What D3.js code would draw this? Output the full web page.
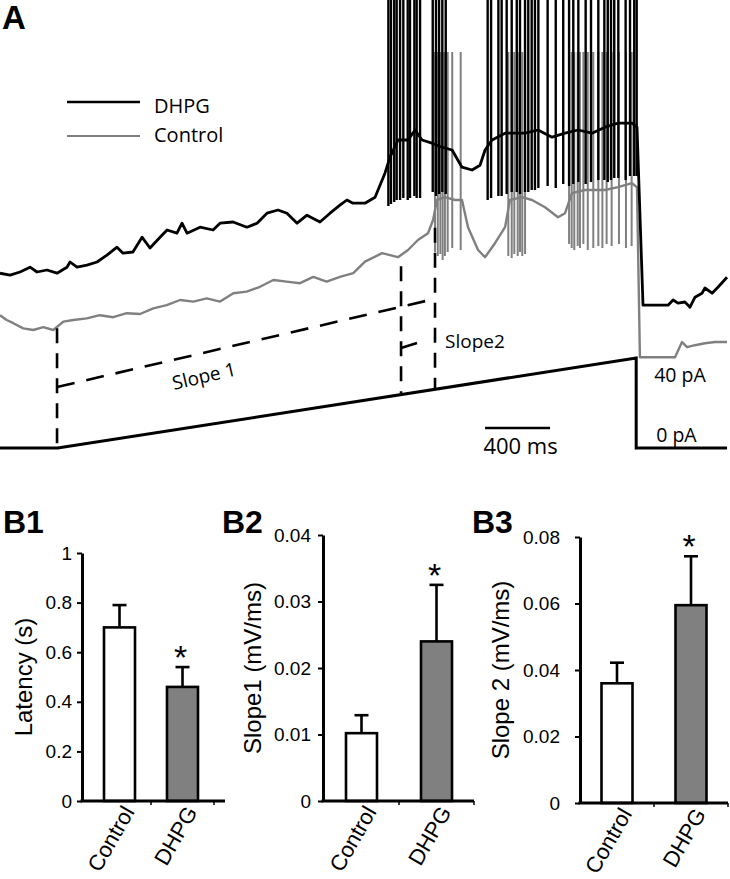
<!DOCTYPE html>
<html><head><meta charset="utf-8">
<script src="https://cdn.jsdelivr.net/npm/d3@7"></script>
<style>body{margin:0;background:#fff}svg{display:block}</style>
</head><body>
<svg id="fig" width="730" height="879"></svg>
<script>
// ================= Panel A data =================
// injected current ramp (time in ms, current in pA)
const rampTimes   = [0, 355, 3915, 3915, 4474];
const rampCurrent = [0, 0, 40, 0, 0];
// DHPG membrane potential (sub-threshold trajectory, ms / mV)
const dhpgBaseT = [0,62,123,185,228,289,351,412,431,474,535,597,658,720,757,818,874,923,985,1028,1089,1120,1151,1231,1311,1354,1434,1520,1582,1643,1711,1766,1828,1889,1969,2031,2092,2135,2172,2246,2308,2369,2400,2449,2511,2554,2597,2658,2720,2782,2843,2905,2954,2985,3028,3108,3231,3311,3397,3477,3557,3643,3723,3803,3889,3920,3957,4111,4142,4172,4215,4246,4277,4320,4338,4382,4418,4474];
const dhpgBaseV = [-68.3,-68.8,-68,-66.8,-68,-67.5,-68.3,-66.8,-65.5,-66.8,-66.3,-65.5,-63.8,-61.8,-63.3,-63,-59.3,-62,-59.3,-57.5,-58.3,-55.8,-58.3,-56.8,-57.5,-55.8,-55.5,-56.8,-55.8,-53.3,-52.5,-53.3,-55.8,-53.8,-55.5,-53.3,-51.3,-50,-50.8,-50.8,-49.3,-43.3,-39.3,-35,-35,-32.5,-35,-35.8,-36.8,-37.5,-41.8,-42.5,-41.3,-37.5,-35,-33.3,-33.3,-32.5,-34.3,-33.3,-32.5,-33.3,-31.8,-30.8,-30.8,-31.8,-76.3,-76.3,-75,-75.8,-75.5,-76.8,-74.3,-73.3,-72,-73.3,-71.8,-69.3];
// Control membrane potential
const ctrlBaseT = [0,41,82,143,205,266,328,390,451,534,615,697,780,862,943,1026,1108,1190,1272,1354,1436,1518,1600,1682,1764,1846,1928,2010,2092,2174,2246,2351,2449,2511,2572,2634,2665,2689,2738,2800,2843,2880,2942,2985,3046,3108,3138,3212,3274,3354,3434,3477,3520,3600,3723,3803,3889,3920,3938,4154,4197,4228,4277,4338,4400,4474];
const ctrlBaseV = [-78.8,-80,-80.8,-82.1,-82.5,-81.8,-82.5,-80.4,-80,-79.6,-78.8,-79.3,-78.3,-78.5,-77.1,-76.3,-75,-75.4,-74.6,-75.4,-73.3,-72.9,-71.7,-70,-70.4,-70.8,-69.2,-70.4,-69.2,-68.3,-65.4,-63.3,-64.3,-62.5,-60,-58.3,-55,-50,-49.3,-50,-50,-56.8,-62.5,-64.3,-60.8,-56.8,-50,-49.3,-50,-51.8,-54.3,-53.3,-48.3,-47.5,-47.5,-46.8,-45.8,-46.8,-89.3,-89.3,-85.5,-86.8,-86.3,-85.8,-85.5,-85.5];
// action potentials: times (ms), AHP trough (mV), peak (mV)
const dhpgSpikeT = [2390,2406,2426,2441,2462,2482,2509,2523,2550,2564,2585,2663,2683,2702,2722,2743,3001,3022,3067,3087,3118,3149,3180,3200,3231,3251,3272,3292,3313,3370,3420,3466,3502,3528,3559,3604,3637,3682,3719,3740,3760,3780,3805,3850,3877,3903,3918];
const dhpgSpikeTrough = [-51.5,-51,-50.5,-50,-50,-49.5,-50,-49.5,-49,-49.5,-49.5,-48,-49,-48.5,-48,-48.5,-50,-49.5,-49,-49,-48.5,-48,-48,-48.5,-48,-48,-47.5,-47.5,-47,-46.5,-47,-46,-46.5,-46,-45.5,-46,-45.5,-45,-45,-45.5,-45,-44.5,-44.5,-45,-44,-44,-44];
const dhpgSpikePeak = 20;
const ctrlSpikeT = [2677,2694,2710,2724,2738,2755,2783,2835,3128,3149,3165,3186,3200,3214,3231,3502,3518,3534,3555,3569,3590,3617,3651,3682,3707,3733,3764,3809,3852,3887];
const ctrlSpikeTrough = [-63,-64,-63.5,-65,-64,-63,-62,-62.5,-64,-64.5,-63.5,-64,-63,-64,-63.5,-61,-62,-62.5,-61.5,-62,-61,-62.5,-62,-61.5,-62,-61,-61.5,-61,-62,-61.5];
const ctrlSpikePeak = -13;
// analysis markers
const markT = [351, 2468, 2677];          // ramp onset, slope break, first spike
const markV = [-81.8, -66.3, -56.7];
const slope1T = [351, 2646], slope1V = [-96.75, -75];
const slope2T = [2468, 2566], slope2V = [-87, -85.75];
const scaleBarT = [2985, 3385];            // 400 ms
const legendNames = ["DHPG", "Control"];

// ================= Panel B data =================
const groups = ["Control", "DHPG"];
const latencyMean = [0.70, 0.46], latencySem = [0.09, 0.08];
const slope1Mean = [0.0102, 0.024], slope1Sem = [0.0027, 0.0085];
const slope2Mean = [0.036, 0.0595], slope2Sem = [0.0062, 0.0147];
const latencyTicks = [0, 0.2, 0.4, 0.6, 0.8, 1];
const slope1Ticks = [0, 0.01, 0.02, 0.03, 0.04];
const slope2Ticks = [0, 0.02, 0.04, 0.06, 0.08];
const significant = [false, true];

// ================= drawing =================
const GRAY = "#808080";
const FA = "'Open Sans', sans-serif";
const FB = "'Liberation Sans', Arial, sans-serif";
const svg = d3.select("#fig");

const xT = d3.scaleLinear().domain([0, 4480]).range([0, 728]);
const yV = d3.scaleLinear().domain([0, -115]).range([0, 460]);
const yI = d3.scaleLinear().domain([0, 40]).range([448, 358]);
const rampAt = d3.scaleLinear().domain(rampTimes.slice(1, 3)).range(rampCurrent.slice(1, 3)).clamp(true);

const gA = svg.append("g");
const lineV = d3.line().x(d => xT(d[0])).y(d => yV(d[1]));
const lineI = d3.line().x(d => xT(d[0])).y(d => yI(d[1]));

function drawTrace(T, V, sT, sTr, peak, color, w, sw) {
  gA.append("path").datum(d3.zip(T, V)).attr("d", lineV)
    .attr("fill", "none").attr("stroke", color).attr("stroke-width", w)
    .attr("stroke-linejoin", "round");
  gA.append("g").selectAll("line").data(d3.zip(sT, sTr)).join("line")
    .attr("x1", d => xT(d[0])).attr("x2", d => xT(d[0]))
    .attr("y1", d => yV(d[1])).attr("y2", yV(peak))
    .attr("stroke", color).attr("stroke-width", sw);
}
drawTrace(ctrlBaseT, ctrlBaseV, ctrlSpikeT, ctrlSpikeTrough, ctrlSpikePeak, GRAY, 2.4, 2);
drawTrace(dhpgBaseT, dhpgBaseV, dhpgSpikeT, dhpgSpikeTrough, dhpgSpikePeak, "#000", 2.8, 2.4);

// current ramp
gA.append("path").datum(d3.zip(rampTimes, rampCurrent)).attr("d", lineI)
  .attr("fill", "none").attr("stroke", "#000").attr("stroke-width", 3);

// dashed markers
const dash = "15,10";
gA.append("g").selectAll("line").data(d3.zip(markT, markV)).join("line")
  .attr("x1", d => xT(d[0])).attr("x2", d => xT(d[0]))
  .attr("y1", d => yV(d[1]) + 1).attr("y2", d => yI(rampAt(d[0])))
  .attr("stroke", "#000").attr("stroke-width", 2.6).attr("stroke-dasharray", dash);
gA.append("line")
  .attr("x1", xT(slope1T[0])).attr("y1", yV(slope1V[0]))
  .attr("x2", xT(slope1T[1])).attr("y2", yV(slope1V[1]))
  .attr("stroke", "#000").attr("stroke-width", 2.6).attr("stroke-dasharray", "18,12");
gA.append("line")
  .attr("x1", xT(slope2T[0])).attr("y1", yV(slope2V[0]))
  .attr("x2", xT(slope2T[1])).attr("y2", yV(slope2V[1]))
  .attr("stroke", "#000").attr("stroke-width", 2.6);

// Slope 1 label (rotated along its line)
const s1x0 = xT(slope1T[0]), s1y0 = yV(slope1V[0]), s1x1 = xT(slope1T[1]), s1y1 = yV(slope1V[1]);
const ang = Math.atan2(s1y1 - s1y0, s1x1 - s1x0) * 180 / Math.PI;
const lx = 204, ly = s1y0 + (s1y1 - s1y0) * (lx - s1x0) / (s1x1 - s1x0) + 23;
gA.append("text").attr("transform", `translate(${lx},${ly}) rotate(${ang})`)
  .attr("text-anchor", "middle").attr("dominant-baseline", "central")
  .style("font-family", FA).style("font-size", "19px").text("Slope 1");
gA.append("text").attr("x", xT(slope2T[0]) + 44).attr("y", yV(slope2V[0]))
  .style("font-family", FA).style("font-size", "19px").text("Slope2");

// current labels
gA.append("text").attr("x", xT(rampTimes[2]) + 18).attr("y", yI(rampCurrent[2]) + 24)
  .style("font-family", FA).style("font-size", "19.5px").text("40 pA");
gA.append("text").attr("x", xT(rampTimes[2]) + 20).attr("y", yI(0) - 6)
  .style("font-family", FA).style("font-size", "19.5px").text("0 pA");

// scale bar
gA.append("line").attr("x1", xT(scaleBarT[0])).attr("x2", xT(scaleBarT[1]))
  .attr("y1", 428).attr("y2", 428).attr("stroke", "#000").attr("stroke-width", 2.6);
gA.append("text").attr("x", (xT(scaleBarT[0]) + xT(scaleBarT[1])) / 2 + 3).attr("y", 454)
  .attr("text-anchor", "middle").style("font-family", FA).style("font-size", "22px").text("400 ms");

// legend
const leg = gA.append("g").selectAll("g").data(legendNames).join("g")
  .attr("transform", (d, i) => `translate(0,${i === 0 ? 102 : 136})`);
leg.append("line").attr("x1", 67).attr("x2", 140)
  .attr("stroke", (d, i) => i === 0 ? "#000" : GRAY).attr("stroke-width", (d, i) => i === 0 ? 2.6 : 2.2);
leg.append("text").attr("x", 154).attr("y", (d, i) => i === 0 ? 11 : 6)
  .style("font-family", FA).style("font-size", "20px").text(d => d);

// panel labels
svg.append("text").attr("x", 2).attr("y", 29).style("font-family", FB).style("font-weight", "bold")
  .style("font-size", "33px").text("A");

// ================= bar charts =================
function barPanel(o) {
  const g = svg.append("g");
  const y = d3.scaleLinear().domain([0, o.ticks[o.ticks.length - 1]]).range([o.y0, o.yTop]);
  const x = d3.scaleBand().domain(groups).range(o.band);
  const bw = 31;
  // bars
  g.selectAll("rect").data(groups).join("rect")
    .attr("x", d => x(d) + x.bandwidth() / 2 - bw / 2).attr("width", bw)
    .attr("y", (d, i) => y(o.mean[i])).attr("height", (d, i) => o.y0 - y(o.mean[i]))
    .attr("fill", (d, i) => i === 0 ? "#fff" : GRAY).attr("stroke", "#000").attr("stroke-width", 2.6);
  // error bars
  const eb = g.append("g").selectAll("g").data(groups).join("g");
  eb.append("line").attr("x1", d => x(d) + x.bandwidth() / 2).attr("x2", d => x(d) + x.bandwidth() / 2)
    .attr("y1", (d, i) => y(o.mean[i])).attr("y2", (d, i) => y(o.mean[i] + o.sem[i]))
    .attr("stroke", "#000").attr("stroke-width", 2.6);
  eb.append("line").attr("x1", d => x(d) + x.bandwidth() / 2 - 7).attr("x2", d => x(d) + x.bandwidth() / 2 + 7)
    .attr("y1", (d, i) => y(o.mean[i] + o.sem[i])).attr("y2", (d, i) => y(o.mean[i] + o.sem[i]))
    .attr("stroke", "#000").attr("stroke-width", 2.6);
  // significance
  g.selectAll(".sig").data(groups.filter((d, i) => significant[i])).join("text")
    .attr("x", d => x(d) + x.bandwidth() / 2 - 2)
    .attr("y", d => { const i = groups.indexOf(d); return y(o.mean[i] + o.sem[i]) + 2; })
    .attr("text-anchor", "middle").style("font-family", FB).style("font-size", "34px").text("*");
  // y axis
  const ax = g.append("g").attr("transform", `translate(${o.axisX},0)`)
    .call(d3.axisLeft(y).tickValues(o.ticks).tickFormat(d => String(d)).tickSize(5).tickSizeOuter(0).tickPadding(o.pad));
  ax.select(".domain").attr("stroke-width", 3);
  ax.selectAll(".tick line").attr("stroke-width", 2);
  ax.selectAll("text").style("font-family", FB).style("font-size", "19px").attr("fill", "#000");
  // x axis line + ticks
  g.append("line").attr("x1", o.axisX - 1.5).attr("x2", o.axisEnd).attr("y1", o.y0).attr("y2", o.y0)
    .attr("stroke", "#000").attr("stroke-width", 3);
  g.append("g").selectAll("line").data(groups).join("line")
    .attr("x1", d => x(d) + x.bandwidth()).attr("x2", d => x(d) + x.bandwidth())
    .attr("y1", o.y0).attr("y2", o.y0 + 4).attr("stroke", "#000").attr("stroke-width", 1.5);
  // x labels
  g.selectAll(".xl").data(groups).join("text")
    .attr("transform", d => `translate(${x(d) + x.bandwidth() / 2 + 9},${o.y0 + 7}) rotate(-60)`)
    .attr("text-anchor", "end").attr("dy", "0.35em")
    .style("font-family", FB).style("font-size", "22px").text(d => d);
  // y title
  g.append("text").attr("transform", `translate(${o.titleX},${(o.y0 + o.yTop) / 2}) rotate(-90)`)
    .attr("text-anchor", "middle").attr("dominant-baseline", "central")
    .style("font-family", FB).style("font-size", "24px").text(o.title);
  // panel label
  svg.append("text").attr("x", o.labelX).attr("y", 533).style("font-family", FB).style("font-weight", "bold")
    .style("font-size", "32px").text(o.label);
}

barPanel({ label: "B1", labelX: 3, axisX: 82, axisEnd: 225, y0: 801, yTop: 553, band: [88, 214],
  ticks: latencyTicks, mean: latencyMean, sem: latencySem, title: "Latency (s)", titleX: 23, pad: 5 });
barPanel({ label: "B2", labelX: 222, axisX: 323, axisEnd: 474, y0: 801, yTop: 535, band: [324, 474],
  ticks: slope1Ticks, mean: slope1Mean, sem: slope1Sem, title: "Slope1 (mV/ms)", titleX: 252, pad: 7 });
barPanel({ label: "B3", labelX: 472, axisX: 580, axisEnd: 728, y0: 803, yTop: 537, band: [580, 728],
  ticks: slope2Ticks, mean: slope2Mean, sem: slope2Sem, title: "Slope 2 (mV/ms)", titleX: 500, pad: 15 });
</script>
</body></html>
